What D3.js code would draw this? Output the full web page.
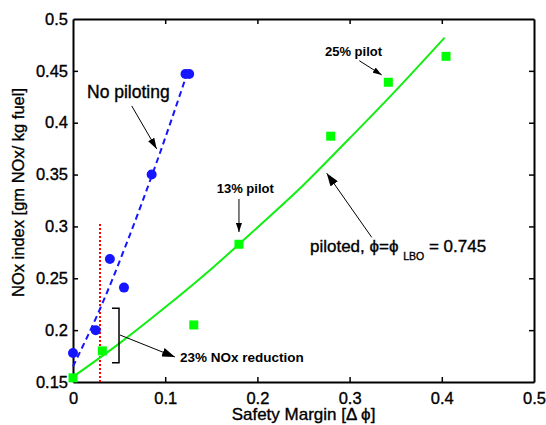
<!DOCTYPE html>
<html>
<head>
<meta charset="utf-8">
<script src="https://cdn.jsdelivr.net/npm/d3@7"></script>
<style>
  html, body { margin: 0; padding: 0; background: #fff; }
  svg { display: block; font-family: "Liberation Sans", Arial, sans-serif; }
  .heavy { stroke: #000; stroke-width: 0.35px; }
</style>
</head>
<body>
<svg id="chart" width="546" height="425"></svg>
<script>
// ---- data ----
const xTicks = [0, 0.1, 0.2, 0.3, 0.4, 0.5];
const yTicks = [0.15, 0.2, 0.25, 0.3, 0.35, 0.4, 0.45, 0.5];
const xTickLabels = ["0", "0.1", "0.2", "0.3", "0.4", "0.5"];
const yTickLabels = ["0.15", "0.2", "0.25", "0.3", "0.35", "0.4", "0.45", "0.5"];

// No piloting (blue circles)
const noPilotX = [0, 0.0246, 0.040, 0.0553, 0.0853, 0.122, 0.126];
const noPilotY = [0.178, 0.200, 0.2686, 0.241, 0.350, 0.447, 0.447];
// blue dashed fit
const noPilotFitX = [0, 0.03, 0.06, 0.09, 0.124];
const noPilotFitY = [0.165, 0.222, 0.288, 0.360, 0.448];

// Piloted (green squares)
const pilotX = [0, 0.0318, 0.131, 0.180, 0.2795, 0.342, 0.4046];
const pilotY = [0.154, 0.180, 0.205, 0.2828, 0.387, 0.439, 0.464];
// green fit line
const pilotFitX = [0, 0.05, 0.1, 0.15, 0.2, 0.25, 0.3, 0.35, 0.403];
const pilotFitY = [0.155, 0.187, 0.222, 0.259, 0.299, 0.340, 0.385, 0.431, 0.482];

// red dotted reference line at safety margin ~0.03
const refX = 0.0293;
const refY = [0.15, 0.303];

// ---- layout ----
const svg = d3.select("#chart");
const W = 546, H = 425;
const mLeft = 73, mRight = 534, mTop = 19, mBottom = 382;
const x = d3.scaleLinear().domain([0, 0.5]).range([mLeft, mRight]);
const y = d3.scaleLinear().domain([0.15, 0.5]).range([mBottom, mTop]);

svg.append("rect").attr("width", W).attr("height", H).attr("fill", "#fff");

const defs = svg.append("defs");
function mk(id, len, wid) {
  defs.append("marker").attr("id", id)
    .attr("viewBox", `0 0 ${len} ${wid}`)
    .attr("refX", len).attr("refY", wid / 2)
    .attr("markerWidth", len).attr("markerHeight", wid)
    .attr("markerUnits", "userSpaceOnUse")
    .attr("orient", "auto")
    .append("path").attr("d", `M0,0L${len},${wid / 2}L0,${wid}Z`).attr("fill", "#000");
}
mk("ahS", 9, 6);
mk("ahM", 11, 7);
mk("ahL", 13, 9);

// ---- axes ----
const tickFont = 16.5;
const axB = svg.append("g").attr("transform", `translate(0,${mBottom})`)
  .call(d3.axisBottom(x).tickValues(xTicks).tickFormat((d, i) => xTickLabels[i])
    .tickSizeInner(-5).tickSizeOuter(0).tickPadding(10));
const axT = svg.append("g").attr("transform", `translate(0,${mTop})`)
  .call(d3.axisTop(x).tickValues(xTicks).tickFormat("")
    .tickSizeInner(-5).tickSizeOuter(0));
const axL = svg.append("g").attr("transform", `translate(${mLeft},0)`)
  .call(d3.axisLeft(y).tickValues(yTicks).tickFormat((d, i) => yTickLabels[i])
    .tickSizeInner(-5).tickSizeOuter(0).tickPadding(5));
const axR = svg.append("g").attr("transform", `translate(${mRight},0)`)
  .call(d3.axisRight(y).tickValues(yTicks).tickFormat("")
    .tickSizeInner(-5).tickSizeOuter(0));
[axB, axT, axL, axR].forEach(g => {
  g.selectAll(".domain").attr("stroke", "#000").attr("stroke-width", 2);
  g.selectAll(".tick line").attr("stroke", "#000").attr("stroke-width", 1.5);
  g.selectAll("text").attr("fill", "#000").attr("class", "heavy").style("font-size", tickFont + "px")
    .style("font-family", '"Liberation Sans", Arial, sans-serif');
});
[axB, axT].forEach(g => g.selectAll(".tick").filter(d => d === 0 || d === 0.5).select("line").remove());
[axL, axR].forEach(g => g.selectAll(".tick").filter(d => d === 0.15 || d === 0.5).select("line").remove());

// axis titles
svg.append("text").attr("class", "heavy").attr("x", (mLeft + mRight) / 2).attr("y", 420)
  .attr("text-anchor", "middle").style("font-size", "17px")
  .text("Safety Margin [Δ ϕ]");
svg.append("text").attr("class", "heavy").attr("transform", `translate(23.5,${192.5}) rotate(-90)`)
  .attr("text-anchor", "middle").style("font-size", "16.5px")
  .text("NOx index [gm NOx/ kg fuel]");

// ---- marks ----
const line = d3.line().x(d => x(d[0])).y(d => y(d[1]));
const smooth = d3.line().x(d => x(d[0])).y(d => y(d[1])).curve(d3.curveMonotoneX);

svg.append("path").datum(refY.map(v => [refX, v])).attr("d", line)
  .attr("stroke", "#ff0000").attr("stroke-width", 2).attr("stroke-dasharray", "2,2").attr("fill", "none");

svg.append("path").datum(pilotFitX.map((v, i) => [v, pilotFitY[i]])).attr("d", smooth)
  .attr("stroke", "#11ee11").attr("stroke-width", 2).attr("fill", "none");

svg.append("path").datum(noPilotFitX.map((v, i) => [v, noPilotFitY[i]])).attr("d", smooth)
  .attr("stroke", "#1515ff").attr("stroke-width", 2).attr("stroke-dasharray", "6,4").attr("fill", "none");

svg.append("g").selectAll("rect").data(pilotX.map((v, i) => [v, pilotY[i]])).join("rect")
  .attr("x", d => x(d[0]) - 4.5).attr("y", d => y(d[1]) - 4.5)
  .attr("width", 9).attr("height", 9).attr("fill", "#00ff00");

svg.append("g").selectAll("circle").data(noPilotX.map((v, i) => [v, noPilotY[i]])).join("circle")
  .attr("cx", d => x(d[0])).attr("cy", d => y(d[1])).attr("r", 5).attr("fill", "#1515ff");

// ---- annotations (data coordinates) ----
function arrow(x1, y1, x2, y2, m) {
  svg.append("line").attr("x1", x(x1)).attr("y1", y(y1)).attr("x2", x(x2)).attr("y2", y(y2))
    .attr("stroke", "#000").attr("stroke-width", 1).attr("marker-end", `url(#${m})`);
}
function label(tx, ty, txt, size, bold) {
  const t = svg.append("text").attr("x", x(tx)).attr("y", y(ty))
    .style("font-size", size + "px").style("font-weight", bold ? "bold" : "normal").text(txt);
  if (!bold) t.attr("class", "heavy");
  return t;
}

label(0.0152, 0.4239, "No piloting", 17.5, false);
arrow(0.0637, 0.4162, 0.0908, 0.3747, "ahM");

label(0.1559, 0.3323, "13% pilot", 13, true);
arrow(0.180, 0.3265, 0.180, 0.2946, "ahS");

label(0.2733, 0.4644, "25% pilot", 13, true);
arrow(0.3105, 0.4598, 0.3348, 0.4461, "ahS");

const pl = svg.append("text").attr("class", "heavy").attr("x", x(0.257)).attr("y", y(0.2757)).style("font-size", "17px");
pl.append("tspan").text("piloted, ϕ=ϕ ");
pl.append("tspan").attr("dy", 8).style("font-size", "10.5px").text("LBO");
pl.append("tspan").attr("dy", -8).text(" = 0.745");
arrow(0.324, 0.2895, 0.2752, 0.3513, "ahL");

const bx0 = 0.0423, bx1 = 0.0499, by0 = 0.2211, by1 = 0.1686;
svg.append("path").datum([[bx0, by0], [bx1, by0], [bx1, by1], [bx0, by1]]).attr("d", line)
  .attr("stroke", "#000").attr("stroke-width", 1.5).attr("fill", "none");
arrow(0.051, 0.1953, 0.1106, 0.1741, "ahL");
label(0.116, 0.1693, "23% NOx reduction", 13.5, true);
</script>
</body>
</html>
